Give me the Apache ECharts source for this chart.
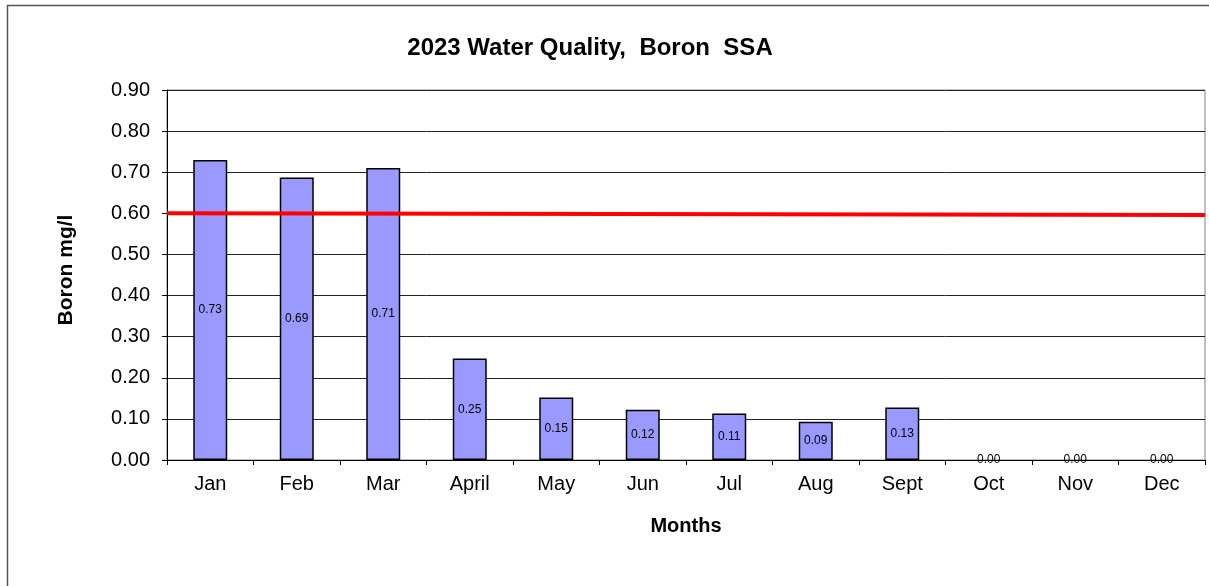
<!DOCTYPE html>
<html><head><meta charset="utf-8">
<script src="https://cdn.jsdelivr.net/npm/echarts@6/dist/echarts.min.js"></script>
<style>html,body{margin:0;padding:0;background:#fff}#c{width:1209px;height:586px}</style>
</head><body><div id="c"></div>
<script>
const months = ['Jan','Feb','Mar','April','May','Jun','Jul','Aug','Sept','Oct','Nov','Dec'];
const boron = [0.73,0.687,0.71,0.247,0.152,0.122,0.113,0.093,0.128,0,0,0];
const limitLine = [[0,0.6],[1,0.596]];
const yTicks = {min:0, max:0.9, interval:0.1};

const F = 'Liberation Sans, Arial, sans-serif';
const chart = echarts.init(document.getElementById('c'), null, {renderer:'canvas'});
chart.setOption({
  animation:false,
  backgroundColor:'#fff',
  title:{text:'2023 Water Quality,  Boron  SSA', left:585, top:31, textAlign:'center',
    textStyle:{fontFamily:F, fontSize:24, fontWeight:'bold', color:'#000'}},
  graphic:[{type:'rect', shape:{x:7.5,y:5.5,width:1230,height:620}, style:{fill:'none', stroke:'#555', lineWidth:1.5}, silent:true}],
  grid:{left:167, right:4, top:90, bottom:126, containLabel:false, show:true, borderColor:'#808080', borderWidth:1},
  xAxis:[{type:'category', data:months, boundaryGap:true,
    name:'Months', nameLocation:'middle', nameGap:56,
    nameTextStyle:{fontFamily:F, fontSize:20, fontWeight:'bold', color:'#000'},
    axisLine:{lineStyle:{color:'#000', width:1}},
    axisTick:{show:true, alignWithLabel:false, length:5, lineStyle:{color:'#000'}},
    axisLabel:{fontFamily:F, fontSize:20, color:'#000', margin:14}},
   {type:'value', min:0, max:1, show:false}],
  yAxis:{type:'value', min:yTicks.min, max:yTicks.max, interval:yTicks.interval,
    name:'Boron mg/l', nameLocation:'middle', nameGap:90, nameRotate:90,
    nameTextStyle:{fontFamily:F, fontSize:21, fontWeight:'bold', color:'#000', padding:[0,0,0,10]},
    axisLine:{show:true, lineStyle:{color:'#000'}},
    axisTick:{show:true, length:5, lineStyle:{color:'#000'}},
    axisLabel:{fontFamily:F, fontSize:20, color:'#000', margin:17, formatter:v=>v.toFixed(2)},
    splitLine:{lineStyle:{color:'#222', width:1}}},
  series:[
    {type:'bar', xAxisIndex:0, barWidth:34,
     data:boron.map(v => v === 0 ? {value:v, itemStyle:{borderWidth:0}} : v),
     itemStyle:{color:'#9999FF', borderColor:'#000', borderWidth:1.5},
     label:{show:true, position:'inside', formatter:p=>p.value.toFixed(2), fontFamily:F, fontSize:12, color:'#000'}},
    {type:'line', data:limitLine, xAxisIndex:1, symbol:'none', z:5,
     lineStyle:{color:'#ff0000', width:4}}
  ]
});
</script></body></html>
